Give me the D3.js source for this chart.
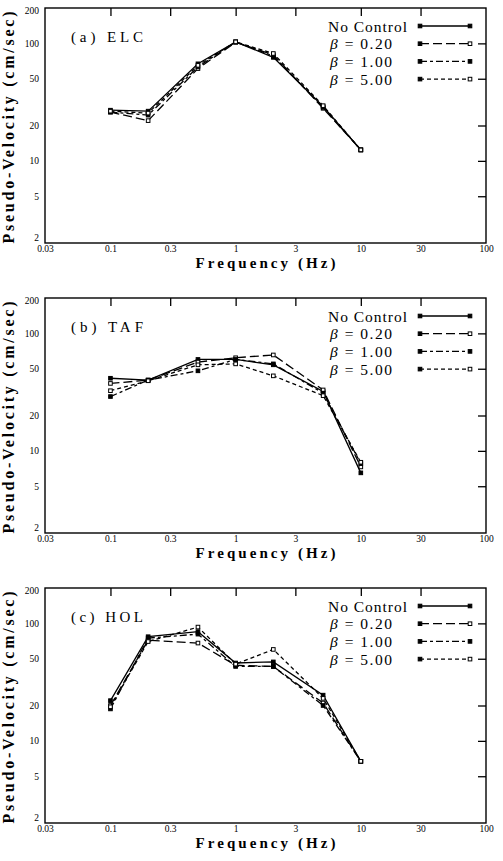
<!DOCTYPE html>
<html>
<head>
<meta charset="utf-8">
<script src="https://cdn.jsdelivr.net/npm/d3@7"></script>
<style>
	body { margin: 0; background: #fff; }
	svg { display: block; }
</style>
</head>
<body>
<svg id="chart" width="503" height="861"></svg>
<script>
// Frequencies (Hz) of the response points.
const freqs = [0.1, 0.2, 0.5, 1, 2, 5, 10];

// Axis ticks.
const xTicks = [0.03, 0.1, 0.3, 1, 3, 10, 30, 100];
const yTicks = [2, 5, 10, 20, 50, 100, 200];

// Series labels (beta values shown in legend).
const seriesLabels = ['No Control', '0.20', '1.00', '5.00'];

// (a) ELC
const elcNoControl = [27, 26.5, 67, 103, 76, 29, 12.4];
const elcBeta020 = [26, 22, 61, 102, 80, 28, 12.4];
const elcBeta100 = [26, 24.5, 63, 103, 78, 28.5, 12.4];
const elcBeta500 = [26.5, 25.5, 65, 103, 82, 29.5, 12.4];

// (b) TAF
const tafNoControl = [41.5, 40, 60, 60, 54, 32, 6.5];
const tafBeta020 = [37.5, 40, 57, 62, 65.5, 33, 7.3];
const tafBeta100 = [29, 40, 48, 60, 55, 31, 7.8];
const tafBeta500 = [32.5, 39.5, 54, 55, 43.5, 29.5, 8];

// (c) HOL
const holNoControl = [22, 77, 85, 46, 47, 24.5, 6.7];
const holBeta020 = [20, 72, 68, 44, 43, 21, 6.7];
const holBeta100 = [18.7, 75, 81, 43, 43, 20, 6.7];
const holBeta500 = [19.5, 70, 93, 45, 60, 23, 6.7];

const panelTitles = ['(a) ELC', '(b) TAF', '(c) HOL'];
const panelSeries = [
	[elcNoControl, elcBeta020, elcBeta100, elcBeta500],
	[tafNoControl, tafBeta020, tafBeta100, tafBeta500],
	[holNoControl, holBeta020, holBeta100, holBeta500],
];

// Line styles per series.
const dashes = [null, '9,4', '7,3,3,3', '4,3'];
const hollow = [false, true, false, true];

const serif = 'Liberation Serif';

const svg = d3.select('#chart').attr('font-family', serif);
const left = 45;
const right = 486;
const plotH = 235;
const panelTops = [8, 298, 588];

const x = d3.scaleLog().domain([0.03, 100]).range([left, right]);
const fmtX = d => (d < 1 ? String(d) : d3.format('d')(d));

panelTops.forEach((top, p) => {
	const y = d3.scaleLog().domain([2, 200]).range([top + plotH, top]);
	const g = svg.append('g').attr('font-family', serif);

	// Frame.
	g.append('rect')
		.attr('x', left)
		.attr('y', top)
		.attr('width', right - left)
		.attr('height', plotH)
		.attr('fill', 'none')
		.attr('stroke', '#000')
		.attr('stroke-width', 1.4);

	// Inward ticks on top and right.
	const topAxis = g.append('g')
		.attr('transform', `translate(0,${top})`)
		.call(d3.axisBottom(x).tickValues(xTicks.slice(1, -1)).tickSize(8).tickFormat(''));
	const rightAxis = g.append('g')
		.attr('transform', `translate(${right},0)`)
		.call(d3.axisLeft(y).tickValues(yTicks.slice(1, -1)).tickSize(8).tickFormat(''));
	[topAxis, rightAxis].forEach(a => {
		a.select('.domain').remove();
		a.selectAll('line').attr('stroke', '#000').attr('stroke-width', 1.3);
	});

	// Tick labels.
	const bottomAxis = g.append('g')
		.attr('transform', `translate(0,${top + plotH})`)
		.call(d3.axisBottom(x).tickValues(xTicks).tickSize(0).tickPadding(2).tickFormat(fmtX));
	const leftAxis = g.append('g')
		.attr('transform', `translate(${left},0)`)
		.call(d3.axisLeft(y).tickValues(yTicks).tickSize(0).tickPadding(6).tickFormat(d3.format('d')));
	[bottomAxis, leftAxis].forEach(a => {
		a.select('.domain').remove();
		a.attr('font-family', serif).attr('font-size', 9.5);
		a.selectAll('text')
			.attr('font-family', serif)
			.attr('font-size', 9.5)
			.attr('fill', '#000');
	});
	leftAxis.selectAll('text').attr('dy', d => (d === 200 ? '0.6em' : d === 2 ? '-0.3em' : '0.32em'));

	// Axis titles.
	g.append('text')
		.attr('x', (left + right) / 2)
		.attr('y', top + plotH + 25)
		.attr('text-anchor', 'middle')
		.attr('font-family', serif)
		.attr('font-size', 15)
		.attr('font-weight', 'bold')
		.attr('textLength', 140)
		.attr('lengthAdjust', 'spacing')
		.text('Frequency (Hz)');

	g.append('text')
		.attr('transform', `translate(14,${top + plotH / 2 + 2}) rotate(-90)`)
		.attr('text-anchor', 'middle')
		.attr('font-family', serif)
		.attr('font-size', 16)
		.attr('font-weight', 'bold')
		.attr('textLength', 232)
		.attr('lengthAdjust', 'spacing')
		.text('Pseudo-Velocity (cm/sec)');

	// Panel label.
	g.append('text')
		.attr('x', 71)
		.attr('y', top + 34)
		.attr('font-family', serif)
		.attr('font-size', 15)
		.attr('textLength', 72)
		.attr('lengthAdjust', 'spacing')
		.text(panelTitles[p]);

	// Series lines.
	const line = d3.line().x((d, i) => x(freqs[i])).y(d => y(d));
	panelSeries[p].forEach((vals, s) => {
		g.append('path')
			.datum(vals)
			.attr('d', line)
			.attr('fill', 'none')
			.attr('stroke', '#000')
			.attr('stroke-width', 1.3)
			.attr('stroke-dasharray', dashes[s]);
		g.selectAll(null)
			.data(vals)
			.join('rect')
			.attr('x', (d, i) => x(freqs[i]) - 1.8)
			.attr('y', d => y(d) - 1.8)
			.attr('width', 3.6)
			.attr('height', 3.6)
			.attr('fill', hollow[s] ? '#fff' : '#000')
			.attr('stroke', '#000')
			.attr('stroke-width', 1);
	});

	// Legend.
	const legend = g.append('g');
	seriesLabels.forEach((label, s) => {
		const ly = top + 18 + s * 17.7;
		const t = legend.append('text')
			.attr('x', s === 0 ? 328 : 330)
			.attr('y', ly + 5.5)
			.attr('font-family', serif)
			.attr('font-size', 15.5)
			.attr('textLength', s === 0 ? 79 : 62)
			.attr('lengthAdjust', 'spacing');
		if (s === 0) {
			t.text(label);
		} else {
			t.append('tspan').attr('font-style', 'italic').text('β');
			t.append('tspan').text(' = ' + label);
		}
		legend.append('line')
			.attr('x1', 420)
			.attr('x2', 470)
			.attr('y1', ly)
			.attr('y2', ly)
			.attr('stroke', '#000')
			.attr('stroke-width', 1.3)
			.attr('stroke-dasharray', dashes[s]);
		[420, 470].forEach((lx, k) => {
			legend.append('rect')
				.attr('x', lx - 1.8)
				.attr('y', ly - 1.8)
				.attr('width', 3.6)
				.attr('height', 3.6)
				.attr('fill', k === 1 && hollow[s] ? '#fff' : '#000')
				.attr('stroke', '#000')
				.attr('stroke-width', 1);
		});
	});
});
</script>
</body>
</html>
